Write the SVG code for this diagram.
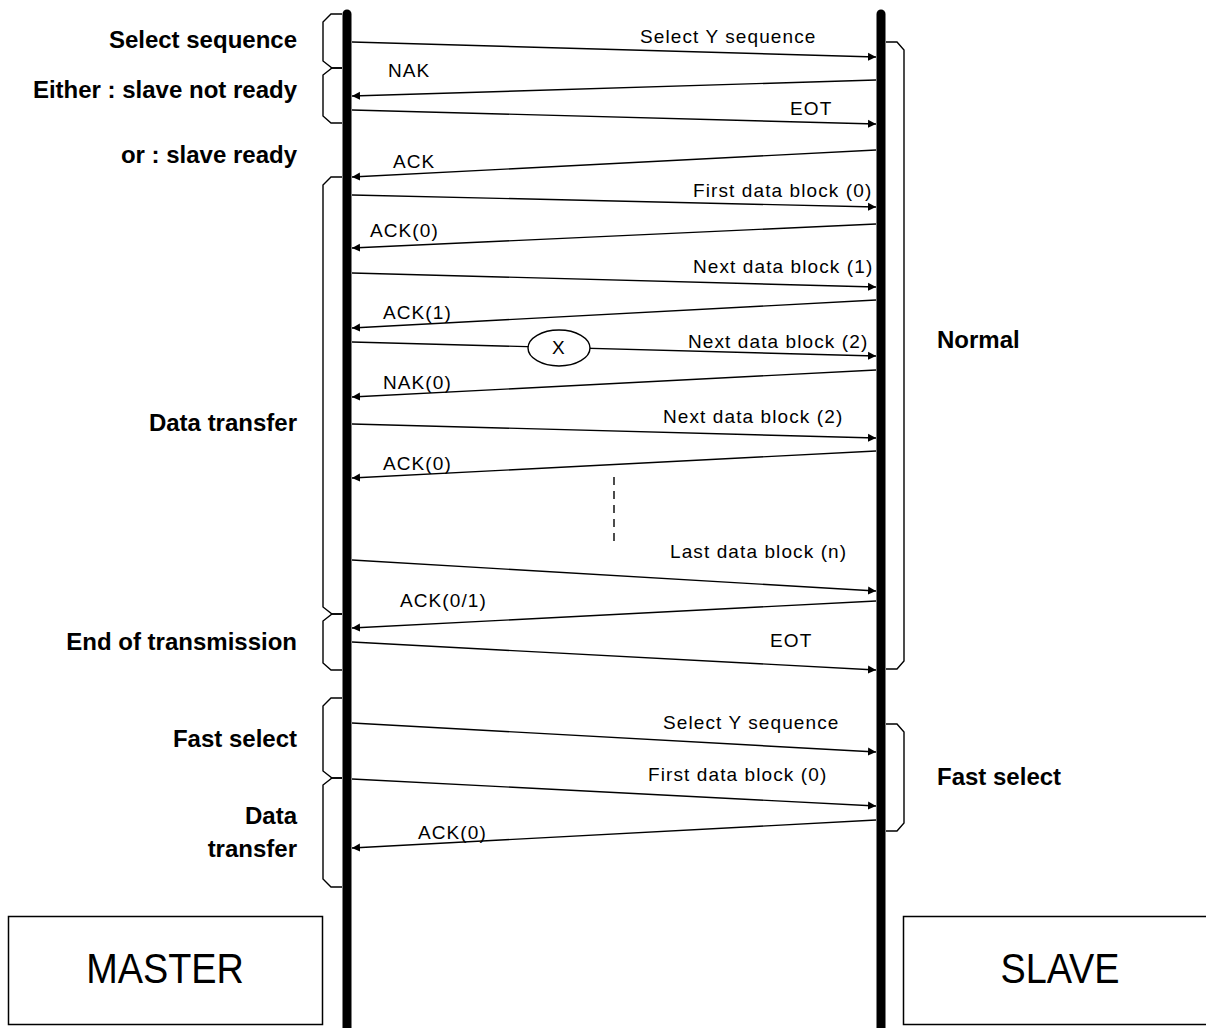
<svg xmlns="http://www.w3.org/2000/svg" width="1206" height="1028" viewBox="0 0 1206 1028">
<style>
.life{stroke:#000;stroke-width:9;stroke-linecap:round;fill:none}
.msg{stroke:#000;stroke-width:1.4;fill:none}
.brk{stroke:#000;stroke-width:1.4;fill:none}
.lbl{font-family:"Liberation Sans",Arial,sans-serif;font-size:19px;letter-spacing:1.1px;fill:#000}
.phase{font-family:"Liberation Sans",Arial,sans-serif;font-size:24px;font-weight:bold;fill:#000;text-anchor:end}
.side{font-family:"Liberation Sans",Arial,sans-serif;font-size:24px;font-weight:bold;fill:#000}
.box{fill:#fff;stroke:#000;stroke-width:1.5}
.boxt{font-family:"Liberation Sans",Arial,sans-serif;font-size:43px;fill:#000;text-anchor:middle}
</style>
<defs>
<marker id="ah" viewBox="0 0 10 10" refX="10" refY="5" markerWidth="8" markerHeight="10" markerUnits="userSpaceOnUse" orient="auto">
<path d="M0,0 L10,5 L0,10 Z" fill="#000"/>
</marker>
</defs>
<rect width="1206" height="1028" fill="#fff"/>

<g id="master">
<line class="life" x1="347" y1="14" x2="347" y2="1040"/>
<rect class="box" x="8.5" y="916.5" width="314" height="108"/>
<text class="boxt" transform="translate(165,983) scale(0.88,1)">MASTER</text>
</g>
<g id="slave">
<line class="life" x1="881" y1="14" x2="881" y2="1040"/>
<rect class="box" x="903.5" y="916.5" width="320" height="108"/>
<text class="boxt" transform="translate(1060,983) scale(0.88,1)">SLAVE</text>
</g>

<g id="left-brackets">
<path class="brk" d="M342,14 H331 L323,22 V61 L332,68 H342"/>
<path class="brk" d="M342,68 H332 L323,75 V116 L331,123 H342"/>
<path class="brk" d="M342,177 H331 L323,185 V607 L332,614 H342"/>
<path class="brk" d="M342,614 H332 L323,621 V663 L331,670 H342"/>
<path class="brk" d="M342,698 H331 L323,706 V771 L332,778 H342"/>
<path class="brk" d="M342,778 H332 L323,785 V879 L331,887 H342"/>
</g>
<g id="right-brackets">
<path class="brk" d="M886,42 H897 L904,50 V661 L897,669 H886"/>
<path class="brk" d="M886,724 H897 L904,732 V823 L897,831 H886"/>
</g>

<g id="phase-labels">
<text class="phase" x="297" y="48">Select sequence</text>
<text class="phase" x="297" y="98">Either : slave not ready</text>
<text class="phase" x="297" y="163">or : slave ready</text>
<text class="phase" x="297" y="431">Data transfer</text>
<text class="phase" x="297" y="650">End of transmission</text>
<text class="phase" x="297" y="747">Fast select</text>
<text class="phase" x="297" y="824">Data</text>
<text class="phase" x="297" y="857">transfer</text>
<text class="side" x="937" y="348">Normal</text>
<text class="side" x="937" y="785">Fast select</text>
</g>

<g id="connectors">
<line class="msg" x1="352" y1="42" x2="876" y2="57" marker-end="url(#ah)"/>
<line class="msg" x1="876" y1="80" x2="352" y2="96" marker-end="url(#ah)"/>
<line class="msg" x1="352" y1="110" x2="876" y2="124" marker-end="url(#ah)"/>
<line class="msg" x1="876" y1="150" x2="352" y2="177" marker-end="url(#ah)"/>
<line class="msg" x1="352" y1="195" x2="876" y2="207" marker-end="url(#ah)"/>
<line class="msg" x1="876" y1="224" x2="352" y2="248" marker-end="url(#ah)"/>
<line class="msg" x1="352" y1="273" x2="876" y2="287" marker-end="url(#ah)"/>
<line class="msg" x1="876" y1="300" x2="352" y2="328" marker-end="url(#ah)"/>
<line class="msg" x1="352" y1="342" x2="876" y2="356" marker-end="url(#ah)"/>
<line class="msg" x1="876" y1="370" x2="352" y2="397" marker-end="url(#ah)"/>
<line class="msg" x1="352" y1="424" x2="876" y2="438" marker-end="url(#ah)"/>
<line class="msg" x1="876" y1="451" x2="352" y2="478" marker-end="url(#ah)"/>
<line class="msg" x1="614" y1="477" x2="614" y2="543" stroke-dasharray="8,6"/>
<line class="msg" x1="352" y1="560" x2="876" y2="591" marker-end="url(#ah)"/>
<line class="msg" x1="876" y1="601" x2="352" y2="628" marker-end="url(#ah)"/>
<line class="msg" x1="352" y1="642" x2="876" y2="670" marker-end="url(#ah)"/>
<line class="msg" x1="352" y1="723" x2="876" y2="752" marker-end="url(#ah)"/>
<line class="msg" x1="352" y1="779" x2="876" y2="806" marker-end="url(#ah)"/>
<line class="msg" x1="876" y1="820" x2="352" y2="848" marker-end="url(#ah)"/>
</g>

<g id="lost-marker">
<ellipse cx="559" cy="348" rx="31" ry="18" fill="#fff" stroke="#000" stroke-width="1.4"/>
<text class="lbl" x="559" y="354" text-anchor="middle" font-size="16" letter-spacing="0">X</text>
</g>

<g id="message-labels">
<text class="lbl" x="640" y="43">Select Y sequence</text>
<text class="lbl" x="388" y="77">NAK</text>
<text class="lbl" x="790" y="115">EOT</text>
<text class="lbl" x="393" y="168">ACK</text>
<text class="lbl" x="693" y="197">First data block (0)</text>
<text class="lbl" x="370" y="237">ACK(0)</text>
<text class="lbl" x="693" y="273">Next data block (1)</text>
<text class="lbl" x="383" y="319">ACK(1)</text>
<text class="lbl" x="688" y="348">Next data block (2)</text>
<text class="lbl" x="383" y="389">NAK(0)</text>
<text class="lbl" x="663" y="423">Next data block (2)</text>
<text class="lbl" x="383" y="470">ACK(0)</text>
<text class="lbl" x="670" y="558">Last data block (n)</text>
<text class="lbl" x="400" y="607">ACK(0/1)</text>
<text class="lbl" x="770" y="647">EOT</text>
<text class="lbl" x="663" y="729">Select Y sequence</text>
<text class="lbl" x="648" y="781">First data block (0)</text>
<text class="lbl" x="418" y="839">ACK(0)</text>
</g>
</svg>
